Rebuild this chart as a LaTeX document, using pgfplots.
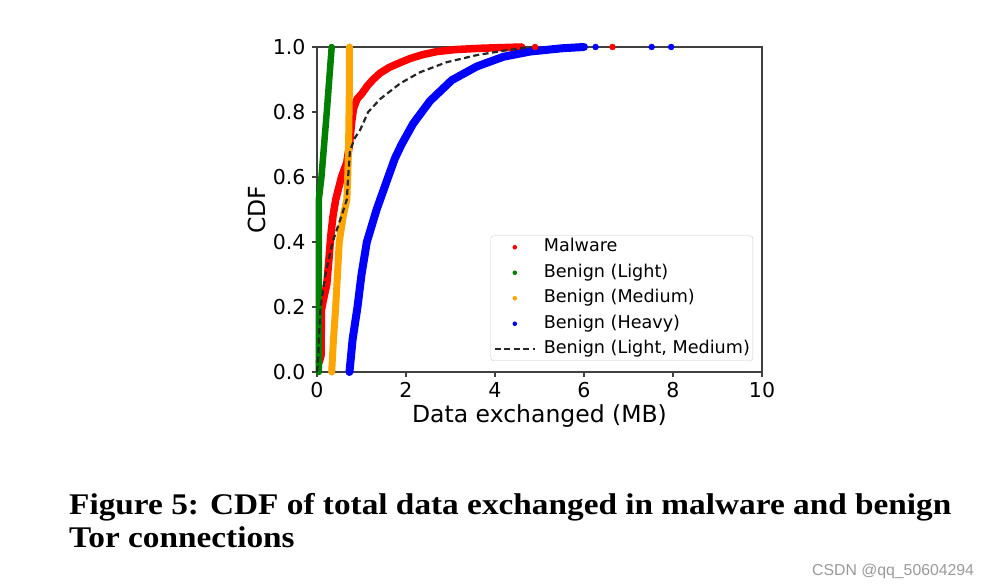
\documentclass[border=0pt]{standalone}
\usepackage{pgfplots}
\pgfplotsset{compat=1.18}
\usepackage{fontspec}
\setmainfont{DejaVu Sans}
\newfontfamily\capfont{Liberation Serif}
\newfontfamily\wmfont{Liberation Sans}
\definecolor{mplorange}{HTML}{FFA500}
\definecolor{mplgreen}{HTML}{008000}
\pgfplotsset{
  dotlegend/.style={legend image code/.code={\path[draw=none, fill=none] (0,0) -- (43pt,0); \fill[##1, draw=none] (20pt,0) circle (2.3pt);}},
  linelegend/.style={legend image code/.code={\draw[##1] (0,0) -- (40pt,0); \path[draw=none, fill=none] (0,0) -- (43pt,0);}},
}
\begin{document}
\begin{tikzpicture}
\path[use as bounding box] (0,0) rectangle (998pt,586pt);
\begin{axis}[
  at={(317pt,214pt)}, anchor=south west,
  scale only axis, width=445pt, height=325pt,
  xmin=0, xmax=10, ymin=0, ymax=1,
  xtick={0,2,4,6,8,10}, ytick={0,0.2,0.4,0.6,0.8,1.0},
  yticklabel style={/pgf/number format/fixed, /pgf/number format/fixed zerofill, /pgf/number format/precision=1},
  /pgf/number format/assume math mode=true,
  ticklabel style={font=\fontsize{20.5}{24}\selectfont},
  xticklabel style={yshift=-2pt},
  yticklabel style={xshift=-3pt},
  label style={font=\fontsize{23.5}{27}\selectfont},
  xlabel={Data exchanged (MB)}, ylabel={CDF},
  axis line style={black!75, line width=1.1pt},
  tick style={black!75, line width=1.1pt},
  tick align=outside, major tick length=5pt,
  xtick pos=bottom, ytick pos=left,
  clip=false,
  legend style={at={(0.98,0.034)}, anchor=south east, draw=black!20, rounded corners=3pt, fill=white,
    font=\fontsize{17.6}{21}\selectfont, inner xsep=3pt, inner ysep=3pt,
    nodes={inner sep=0pt, text height=13pt, text depth=4pt}, row sep=8.5pt, column sep=6pt},
  legend cell align=left,
]
\addplot[red, line width=7.5pt, line join=round, line cap=round, dotlegend] coordinates {
(0.05,0.03)(0.09,0.05)(0.1,0.19)(0.14,0.22)(0.22,0.27)(0.27,0.35)(0.31,0.42)(0.36,0.48)(0.42,0.53)
(0.55,0.6)(0.67,0.645)(0.73,0.7)(0.78,0.77)(0.82,0.81)(0.9,0.84)(1.0,0.855)(1.13,0.88)(1.26,0.9)(1.42,0.92)
(1.62,0.937)(1.87,0.952)(2.1,0.965)(2.39,0.977)(2.7,0.986)(3.1,0.992)(3.66,0.996)(4.6,1.0)};
\addlegendentry{Malware}
\addplot[mplgreen, line width=6.5pt, line join=round, line cap=round, dotlegend] coordinates {
(0.04,0)(0.04,0.53)(0.1,0.6)(0.22,0.8)(0.33,1.0)};
\addlegendentry{Benign (Light)}
\addplot[mplorange, line width=7pt, line join=round, line cap=round, dotlegend] coordinates {
(0.33,0)(0.37,0.1)(0.42,0.2)(0.46,0.3)(0.5,0.4)(0.59,0.48)(0.67,0.53)(0.69,0.6)(0.71,0.7)(0.72,0.8)(0.73,0.9)(0.73,1.0)};
\addlegendentry{Benign (Medium)}
\addplot[blue, line width=8pt, line join=round, line cap=round, dotlegend] coordinates {
(0.73,0)(0.8,0.1)(0.91,0.2)(1.0,0.3)(1.12,0.4)(1.34,0.5)(1.6,0.6)(1.75,0.657)(1.9,0.7)
(2.16,0.764)(2.54,0.834)(3.03,0.898)(3.59,0.94)(4.19,0.97)(4.79,0.986)(5.5,0.996)(6.0,1.0)};
\addlegendentry{Benign (Heavy)}
\addplot[red, only marks, mark=*, mark size=3pt, forget plot] coordinates {(6.64,1.0)(4.9,1.0)};
\addplot[blue, only marks, mark=*, mark size=3pt, forget plot] coordinates {(6.26,1.0)(7.52,1.0)(7.96,1.0)};
\addplot[black!85, line width=2.2pt, dash pattern=on 6pt off 3.5pt, linelegend] coordinates {
(0.0,0)(0.03,0.05)(0.04,0.1)(0.08,0.2)(0.19,0.3)(0.35,0.4)(0.55,0.48)(0.67,0.53)(0.7,0.6)
(0.74,0.68)(0.85,0.72)(0.97,0.745)(1.15,0.8)(1.42,0.84)(1.87,0.888)(2.31,0.922)(2.91,0.953)
(3.59,0.975)(4.26,0.99)(4.8,1.0)};
\addlegendentry{Benign (Light, Medium)}
\end{axis}
\node[anchor=base west, inner sep=0pt, xscale=1.11] at (69pt,71pt) {\capfont\bfseries\fontsize{30}{34}\selectfont Figure 5: CDF of total data exchanged in malware and benign};
\node[anchor=base west, inner sep=0pt, xscale=1.11] at (69pt,38pt) {\capfont\bfseries\fontsize{30}{34}\selectfont Tor connections};
\node[anchor=base west, inner sep=0pt, text=black!40] at (812pt,11pt) {\wmfont\fontsize{15.8}{18}\selectfont CSDN @qq\_50604294};
\end{tikzpicture}
\end{document}
